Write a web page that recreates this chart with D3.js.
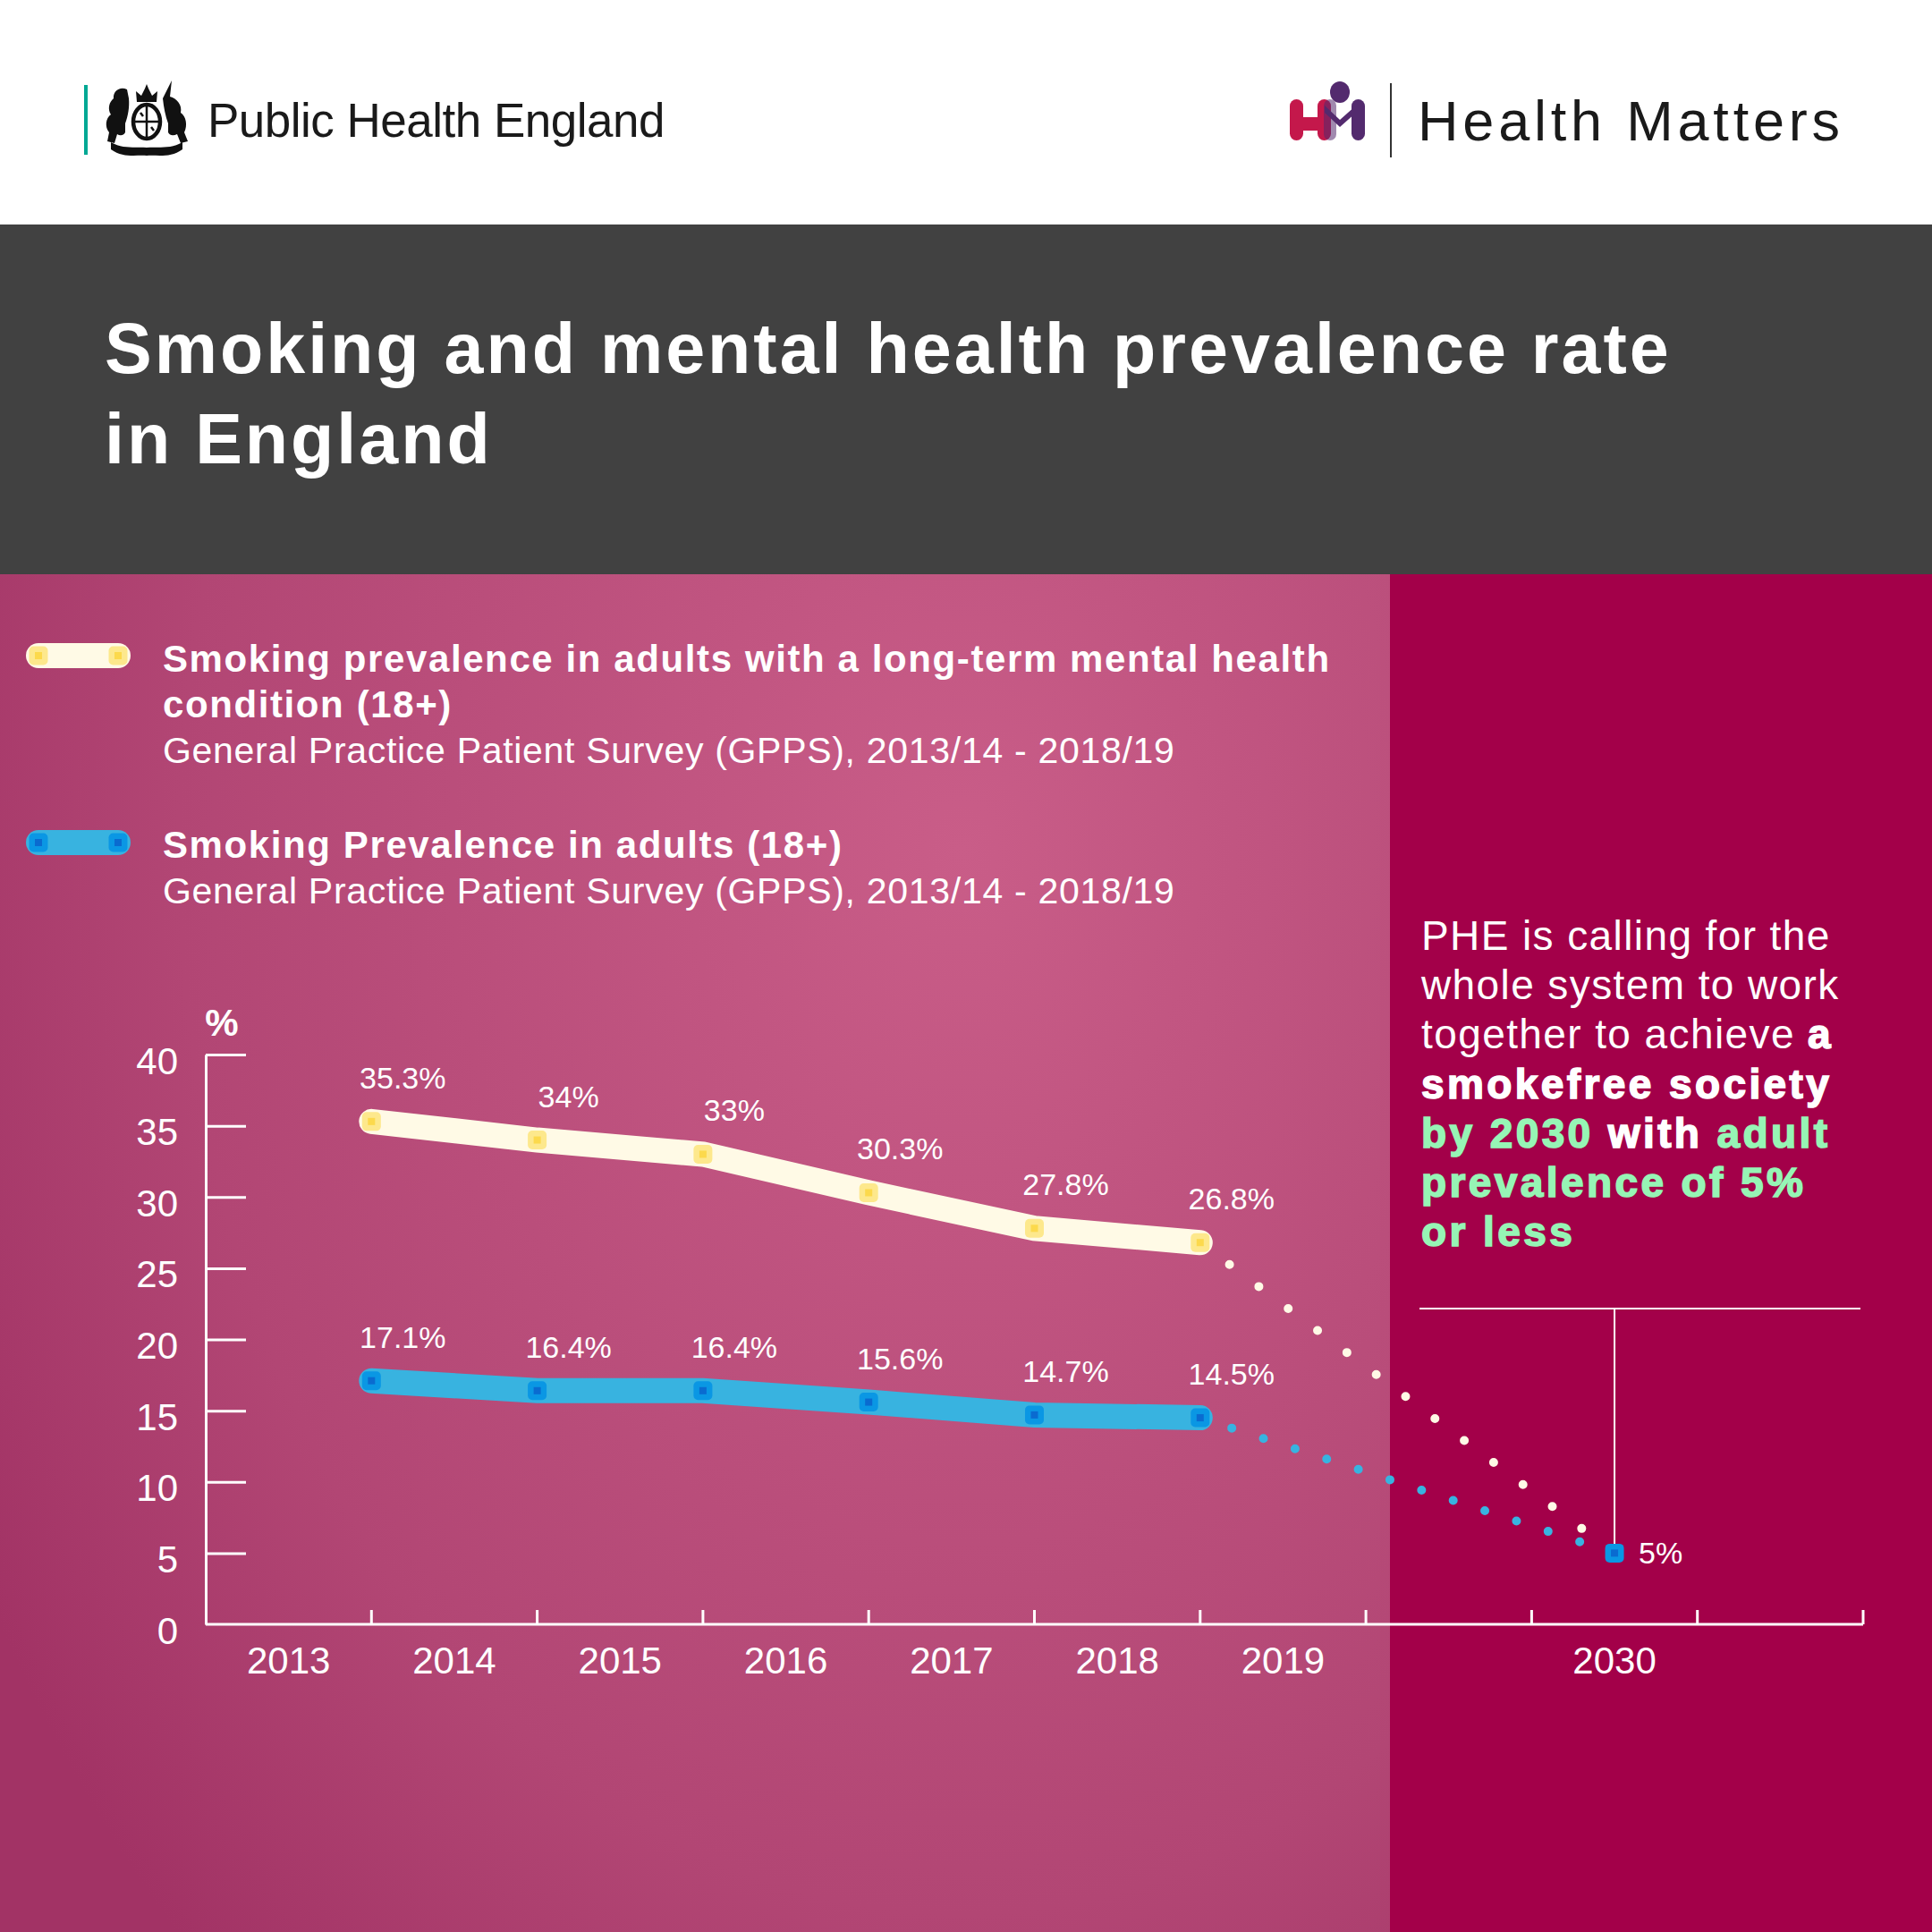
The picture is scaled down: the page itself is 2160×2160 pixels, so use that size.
<!DOCTYPE html>
<html lang="en">
<head>
<meta charset="UTF-8">
<title>Smoking and mental health prevalence rate in England</title>
<script src="https://d3js.org/d3.v7.min.js"></script>
<style>
    body { margin: 0; background: #fff; }
    svg { display: block; font-family: "Liberation Sans", Arial, sans-serif; }
</style>
</head>
<body>
<div id="viz"></div>
<script>
    // chart data
    const xSlots = ["2013", "2014", "2015", "2016", "2017", "2018", "2019", "gapA", "2030", "gapB"]
    const xTickLabels = ["2013", "2014", "2015", "2016", "2017", "2018", "2019", "", "2030", ""]
    const surveyYears = ["2013/14", "2014/15", "2015/16", "2016/17", "2017/18", "2018/19"]
    const mentalHealthRate = [35.3, 34, 33, 30.3, 27.8, 26.8]
    const adultRate = [17.1, 16.4, 16.4, 15.6, 14.7, 14.5]
    const mentalHealthLabels = ["35.3%", "34%", "33%", "30.3%", "27.8%", "26.8%"]
    const adultLabels = ["17.1%", "16.4%", "16.4%", "15.6%", "14.7%", "14.5%"]
    const targetYear = "2030"
    const targetRate = 5
    const yTicks = [0, 5, 10, 15, 20, 25, 30, 35, 40]

    const width = 2160
    const height = 2160
    const panelSplit = 1554

    const cream = "#fffae6"
    const blue = "#38b3e0"

    const svg = d3.select("#viz").append("svg")
        .attr("width", width)
        .attr("height", height)

    const defs = svg.append("defs")
    const grad = defs.append("radialGradient")
        .attr("id", "bg")
        .attr("gradientUnits", "userSpaceOnUse")
        .attr("cx", 0).attr("cy", 0).attr("r", 1)
        .attr("gradientTransform", "translate(1075,950) scale(1250,1700)")
    grad.append("stop").attr("offset", 0).attr("stop-color", "#c95d88")
    grad.append("stop").attr("offset", 0.7).attr("stop-color", "#b24674")
    grad.append("stop").attr("offset", 1).attr("stop-color", "#a23365")

    // backgrounds
    svg.append("rect").attr("width", width).attr("height", 251).attr("fill", "#fff")
    svg.append("rect").attr("y", 251).attr("width", width).attr("height", 391).attr("fill", "#414141")
    svg.append("rect").attr("y", 642).attr("width", panelSplit).attr("height", height - 642).attr("fill", "url(#bg)")
    svg.append("rect").attr("x", panelSplit).attr("y", 642).attr("width", width - panelSplit).attr("height", height - 642).attr("fill", "#a30049")

    // ---- header: PHE logo
    const phe = svg.append("g")
    phe.append("rect").attr("x", 94).attr("y", 95).attr("width", 4).attr("height", 78).attr("fill", "#00a894")
    const crest = phe.append("g").attr("transform", "translate(164,134)").attr("fill", "#111")
    crest.append("path") // crown
        .attr("d", "M-11,-20 L-12,-32 L-6,-27 L-2,-35 L0,-40 L2,-35 L6,-27 L12,-32 L11,-20 Z")
    crest.append("path") // lion
        .attr("d", "M-22,-34 C-30,-38 -38,-32 -37,-24 C-42,-20 -44,-12 -40,-6 C-46,-2 -47,8 -42,14 L-44,24 L-36,26 L-33,16 C-30,18 -26,18 -24,14 L-24,4 C-21,-4 -19,-14 -20,-24 Z")
    crest.append("path") // unicorn
        .attr("d", "M18,-24 L28,-44 L26,-26 C34,-24 40,-16 38,-8 C44,-4 46,6 42,14 L46,24 L38,26 L34,16 C30,18 26,18 24,14 L24,4 C21,-4 19,-14 18,-24 Z")
    crest.append("ellipse").attr("rx", 15).attr("ry", 19).attr("cy", 2)
        .attr("fill", "#fff").attr("stroke", "#111").attr("stroke-width", 4.5)
    crest.append("path").attr("d", "M0,-15 L0,19 M-13,2 L13,2 M-7,-8 L-4,-4 M5,8 L8,12")
        .attr("stroke", "#111").attr("stroke-width", 2.5)
    crest.append("path") // motto ribbon
        .attr("d", "M-40,25 C-26,33 -12,30 0,31 C12,30 26,33 40,25 L40,33 C26,43 12,39 0,40 C-12,39 -26,43 -40,33 Z")
    phe.append("text").attr("x", 232).attr("y", 153)
        .attr("font-size", 53).attr("letter-spacing", -0.5).attr("fill", "#1a1a1a")
        .text("Public Health England")

    // ---- header: Health Matters logo
    const hm = svg.append("g")
    hm.append("rect").attr("x", 1442).attr("y", 111).attr("width", 15).attr("height", 46).attr("rx", 7.5).attr("fill", "#c4184b")
    hm.append("rect").attr("x", 1473).attr("y", 111).attr("width", 15).attr("height", 46).attr("rx", 7.5).attr("fill", "#c4184b")
    hm.append("rect").attr("x", 1450).attr("y", 131).attr("width", 30).attr("height", 15).attr("fill", "#c4184b")
    hm.append("path")
        .attr("d", "M1481,118 L1498,134 L1516,118 L1516,126 L1498,142 L1481,126 Z")
        .attr("fill", "#532a6e")
    hm.append("rect").attr("x", 1480).attr("y", 111).attr("width", 14).attr("height", 46).attr("rx", 7)
        .attr("fill", "#532a6e").attr("opacity", 0.55)
    hm.append("rect").attr("x", 1511).attr("y", 111).attr("width", 15).attr("height", 46).attr("rx", 7.5).attr("fill", "#532a6e")
    hm.append("ellipse").attr("cx", 1498).attr("cy", 103).attr("rx", 11).attr("ry", 12).attr("fill", "#532a6e")
    hm.append("rect").attr("x", 1554).attr("y", 93).attr("width", 2).attr("height", 83).attr("fill", "#333")
    hm.append("text").attr("x", 1585).attr("y", 157)
        .attr("font-size", 63).attr("letter-spacing", 4.8).attr("font-weight", 300).attr("fill", "#1a1a1a")
        .text("Health Matters")

    // ---- title
    const title = svg.append("text").attr("fill", "#fff").attr("font-weight", "bold")
        .attr("font-size", 79).attr("letter-spacing", 3)
    title.append("tspan").attr("x", 117).attr("y", 417).text("Smoking and mental health prevalence rate")
    title.append("tspan").attr("x", 117).attr("y", 518).text("in England")

    // ---- scales
    const xScale = d3.scaleBand().domain(xSlots).range([230, 2083])
    const yScale = d3.scaleLinear().domain([0, 40]).range([1816, 1179])

    // survey year "2013/14" sits on the boundary where the "2014" slot starts
    const surveyX = s => xScale("20" + s.slice(5))
    const targetX = xScale(targetYear) + xScale.bandwidth() / 2

    const mhData = surveyYears.map((s, i) => ({x: surveyX(s), v: mentalHealthRate[i], label: mentalHealthLabels[i]}))
    const adData = surveyYears.map((s, i) => ({x: surveyX(s), v: adultRate[i], label: adultLabels[i]}))
    const target = {x: targetX, v: targetRate}

    // ---- axes
    const yAxis = svg.append("g")
        .attr("transform", `translate(${230},0)`)
        .call(d3.axisLeft(yScale).tickValues(yTicks).tickSize(-45).tickSizeOuter(0).tickPadding(31))
    yAxis.selectAll("path, line").attr("stroke", "#fff").attr("stroke-width", 3)
    yAxis.selectAll("text").attr("fill", "#fff").attr("font-size", 42).attr("dy", "0.5em")
        .attr("font-family", "Liberation Sans, Arial, sans-serif")
    yAxis.selectAll(".tick").filter(d => d === 0).select("line").remove()

    svg.append("text").attr("x", 248).attr("y", 1158).attr("text-anchor", "middle")
        .attr("fill", "#fff").attr("font-weight", "bold").attr("font-size", 42).text("%")

    const xAxis = svg.append("g")
        .attr("transform", `translate(0,${1816})`)
        .call(d3.axisBottom(xScale).tickSize(0).tickPadding(25)
            .tickFormat((d, i) => xTickLabels[i]))
    xAxis.select(".domain").remove()
    xAxis.selectAll("text").attr("fill", "#fff").attr("font-size", 42)
        .attr("font-family", "Liberation Sans, Arial, sans-serif")

    svg.append("line").attr("x1", 230).attr("x2", 2083).attr("y1", 1816).attr("y2", 1816)
        .attr("stroke", "#fff").attr("stroke-width", 3)
    svg.selectAll(".slotTick").data(xSlots).enter().append("line")
        .attr("x1", d => xScale(d) + xScale.bandwidth()).attr("x2", d => xScale(d) + xScale.bandwidth())
        .attr("y1", 1816).attr("y2", 1800)
        .attr("stroke", "#fff").attr("stroke-width", 3)

    // ---- target callout
    svg.append("line").attr("x1", 1587).attr("x2", 2080).attr("y1", 1463).attr("y2", 1463)
        .attr("stroke", "#fff").attr("stroke-width", 2)
    svg.append("line").attr("x1", targetX).attr("x2", targetX).attr("y1", 1463).attr("y2", yScale(targetRate))
        .attr("stroke", "#fff").attr("stroke-width", 2)

    const lineGen = d3.line().x(d => d.x).y(d => yScale(d.v))

    // projections to the 2030 target
    svg.append("path").attr("d", lineGen([mhData[mhData.length - 1], target]))
        .attr("fill", "none").attr("stroke", cream).attr("stroke-width", 10)
        .attr("stroke-linecap", "round").attr("stroke-dasharray", "0 41")
    svg.append("path").attr("d", lineGen([adData[adData.length - 1], target]))
        .attr("fill", "none").attr("stroke", blue).attr("stroke-width", 10)
        .attr("stroke-linecap", "round").attr("stroke-dasharray", "0 37.2")

    // ---- solid series
    const series = [
        {data: mhData, color: cream, mark: "#fde88c", inner: "#fcd94c"},
        {data: adData, color: blue, mark: "#0a97e4", inner: "#0a6bd0"}
    ]

    function marker(g, x, y, s) {
        g.append("rect").attr("x", x - 10.5).attr("y", y - 10.5).attr("width", 21).attr("height", 21)
            .attr("rx", 5).attr("fill", s.mark)
        g.append("rect").attr("x", x - 4).attr("y", y - 4).attr("width", 8).attr("height", 8)
            .attr("fill", s.inner)
    }

    series.forEach(s => {
        svg.append("path").attr("d", lineGen(s.data))
            .attr("fill", "none").attr("stroke", s.color).attr("stroke-width", 28)
            .attr("stroke-linecap", "round").attr("stroke-linejoin", "miter")
        const g = svg.append("g")
        s.data.forEach(d => marker(g, d.x, yScale(d.v), s))
        svg.selectAll(null).data(s.data).enter().append("text")
            .attr("x", d => d.x + 35).attr("y", d => yScale(d.v) - 37)
            .attr("text-anchor", "middle").attr("fill", "#fff").attr("font-size", 34)
            .text(d => d.label)
    })

    marker(svg.append("g"), target.x, yScale(target.v), series[1])
    svg.append("text").attr("x", target.x + 27).attr("y", yScale(target.v) + 12)
        .attr("fill", "#fff").attr("font-size", 34).text(targetRate + "%")

    // ---- legend
    const legend = [
        {y: 733, s: series[0], title: ["Smoking prevalence in adults with a long-term mental health", "condition (18+)"],
            source: "General Practice Patient Survey (GPPS), 2013/14 - 2018/19", base: 751},
        {y: 942, s: series[1], title: ["Smoking Prevalence in adults (18+)"],
            source: "General Practice Patient Survey (GPPS), 2013/14 - 2018/19", base: 959}
    ]
    legend.forEach(l => {
        svg.append("line").attr("x1", 43).attr("x2", 132).attr("y1", l.y).attr("y2", l.y)
            .attr("stroke", l.s.color).attr("stroke-width", 28).attr("stroke-linecap", "round")
        const g = svg.append("g")
        marker(g, 43, l.y, l.s)
        marker(g, 132, l.y, l.s)
        const t = svg.append("text").attr("fill", "#fff")
        l.title.forEach((line, i) => {
            t.append("tspan").attr("x", 182).attr("y", l.base + i * 51)
                .attr("font-weight", "bold").attr("font-size", 42).attr("letter-spacing", 1.6).text(line)
        })
        t.append("tspan").attr("x", 182).attr("y", l.base + l.title.length * 51)
            .attr("font-size", 41).attr("letter-spacing", 0.7).text(l.source)
    })

    // ---- call to action
    const green = "#96f5b5"
    const callout = [
        [{t: "PHE is calling for the"}],
        [{t: "whole system to work"}],
        [{t: "together to achieve "}, {t: "a", b: true}],
        [{t: "smokefree society", b: true}],
        [{t: "by 2030", b: true, c: green}, {t: " with ", b: true}, {t: "adult", b: true, c: green}],
        [{t: "prevalence of 5%", b: true, c: green}],
        [{t: "or less", b: true, c: green}]
    ]
    const cta = svg.append("text").attr("font-size", 46)
    callout.forEach((line, i) => {
        line.forEach((seg, j) => {
            const ts = cta.append("tspan").text(seg.t)
                .attr("fill", seg.c || "#fff")
                .attr("letter-spacing", seg.b ? 3.4 : 1.4)
            if (j === 0) ts.attr("x", 1589).attr("y", 1062 + i * 55.2)
            if (seg.b) ts.attr("font-weight", "bold").attr("stroke", seg.c || "#fff").attr("stroke-width", 1.6)
        })
    })
</script>
</body>
</html>
